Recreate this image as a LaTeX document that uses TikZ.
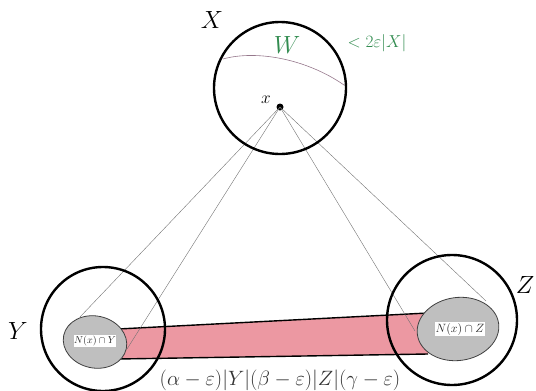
\documentclass[tikz,border=0pt]{standalone}
\usepackage{amsmath}
\usetikzlibrary{shapes.geometric}
\begin{document}
\begin{tikzpicture}[x=1pt,y=-1pt,
  bigset/.style={circle,draw=black,line width=2.4pt,inner sep=0pt},
  nbhd/.style={ellipse,draw=black!75,fill=black!25,line width=0.8pt,inner sep=0pt},
  ray/.style={draw=black!55,line width=0.4pt},
  smalllab/.style={fill=white,inner sep=0.6pt,text=black!85},
  greentxt/.style={text={rgb,255:red,50;green,140;blue,80}}
]
\definecolor{bandpink}{RGB}{236,152,162}
\useasboundingbox (0,0) rectangle (536,391);
% band
\coordinate (b1) at (118,329);
\coordinate (b2) at (428,313);
\coordinate (b3) at (428,354);
\coordinate (b4) at (118,359);
\fill[bandpink] (b1) -- (b2) -- (b3) -- (b4) -- cycle;
\draw[line width=1.4pt] (b1) -- (b2);
\draw[line width=1.4pt] (b4) -- (b3);
% neighbourhoods
\node[nbhd,minimum width=64pt,minimum height=52pt,rotate=-12] (NY) at (95,342) {};
\node[nbhd,minimum width=82pt,minimum height=63pt,rotate=8] (NZ) at (458,329) {};
\node[smalllab,font=\fontsize{10}{12}\selectfont] (NYl) at (95,341) {$N(x)\cap Y$};
\node[smalllab,font=\fontsize{12}{14}\selectfont] (NZl) at (460,329) {$N(x)\cap Z$};
% point x
\node[circle,fill=black,inner sep=0pt,minimum size=7pt] (x) at (280,107) {};
% ray endpoints
\coordinate (ya) at (80,317);
\coordinate (yb) at (127,349);
\coordinate (za) at (415,331);
\coordinate (zb) at (486,301);
\draw[ray] (x.center) -- (ya);
\draw[ray] (x.center) -- (yb);
\draw[ray] (x.center) -- (za);
\draw[ray] (x.center) -- (zb);
% W curve
\coordinate (w1) at (223,59);
\coordinate (w2) at (344,85);
\draw[draw={rgb,255:red,150;green,120;blue,140},line width=0.6pt] (w1) .. controls (255,50) and (305,58) .. (w2);
% big sets
\node[bigset,minimum size=132pt] (X) at (280,88) {};
\node[bigset,minimum size=124pt] (Y) at (103,329) {};
\node[bigset,minimum size=130pt] (Z) at (452,320) {};
% labels
\node[font=\fontsize{26}{30}\selectfont] (Xl) at (212,20) {$X$};
\node[font=\fontsize{26}{30}\selectfont] (Yl) at (18,331) {$Y$};
\node[font=\fontsize{26}{30}\selectfont] (Zl) at (525,285) {$Z$};
\node[font=\fontsize{19}{22}\selectfont] (xl) at (266,100) {$x$};
\node[greentxt,font=\fontsize{23}{26}\selectfont] (Wl) at (287,45) {$W$};
\node[greentxt,font=\fontsize{18}{21}\selectfont] (Wb) at (377,43) {$<2\varepsilon|X|$};
\node[font=\fontsize{20}{24}\selectfont,text=black!80] (cnt) at (280,380) {$(\alpha-\varepsilon)|Y|(\beta-\varepsilon)|Z|(\gamma-\varepsilon)$};
\end{tikzpicture}
\end{document}
